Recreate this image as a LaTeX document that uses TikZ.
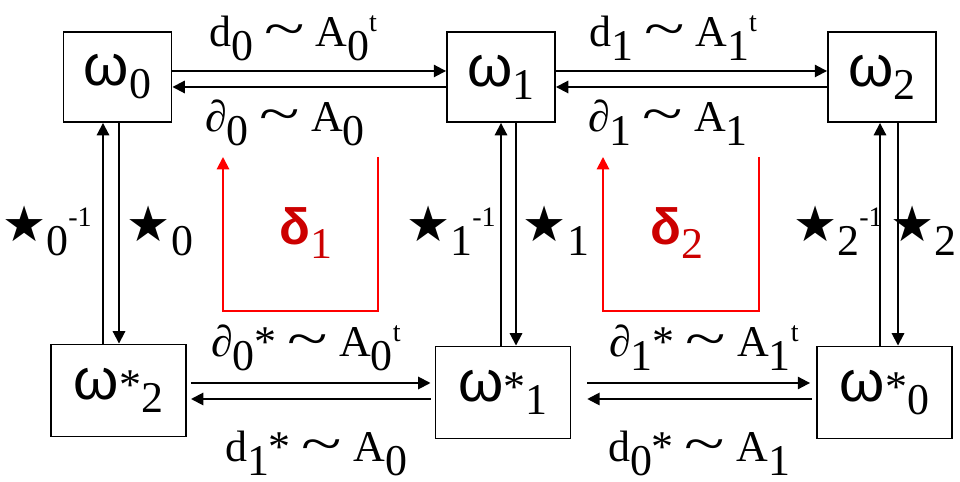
\documentclass[tikz,border=0pt]{standalone}
\usepackage{fontspec}
\setmainfont{Liberation Serif}
\newfontfamily\grkfont{Liberation Sans}
\newfontfamily\starfont{DejaVu Sans}
\usetikzlibrary{arrows.meta}

\newcommand{\subd}[1]{\raisebox{-0.3em}{#1}}
\newcommand{\supu}[1]{\raisebox{0.36em}{\fontsize{16}{16}\selectfont #1}}
\newcommand{\om}[1]{{\grkfont\fontsize{33}{33}\selectfont ω}\subd{#1}}
\newcommand{\oms}[1]{{\grkfont\fontsize{33}{33}\selectfont ω}*\subd{#1}}
\newcommand{\str}[1]{{\starfont\fontsize{28}{28}\selectfont ★}\subd{#1}}
\newcommand{\tld}{\ \scalebox{1.7}[1.2]{\textasciitilde}\ }

\begin{document}
\begin{tikzpicture}[
      x=0.02cm, y=-0.02cm,
      box/.style  = {rectangle, draw, line width=1.1pt, inner sep=0pt,
                     minimum width=2.16cm, minimum height=1.8cm,
                     font=\fontsize{25}{25}\selectfont},
      boxs/.style = {box, minimum width=2.7cm, minimum height=1.84cm},
      arr/.style  = {-{Triangle[length=7pt, width=7pt]}, line width=1.1pt},
      dl/.style   = {-{Triangle[length=7pt, width=7pt]}, draw=red, line width=1.1pt},
      lbl/.style  = {anchor=base, inner sep=0pt, font=\fontsize{25}{25}\selectfont},
      dlt/.style  = {anchor=base, inner sep=0pt, text=red!80!black,
                     font=\fontsize{25}{25}\selectfont},
    ]
    \useasboundingbox (0,0) rectangle (960,482);

    %% ------------------------------------------------ forms
    \node[box] (w0) at (117.5, 77) {\om{0}};
    \node[box] (w1) at (501, 77) {\om{1}};
    \node[box] (w2) at (882, 77) {\om{2}};
    \node[boxs] (ws2) at (118.5, 390.5) {\oms{2}};
    \node[boxs] (ws1) at (503, 392.5) {\oms{1}};
    \node[boxs] (ws0) at (884.5, 392.5) {\oms{0}};

    %% ------------------------------------------------ rows and columns of the arrows
    \coordinate (t1) at (0, 71);
    \coordinate (t2) at (0, 87);
    \coordinate (b1) at (0, 383);
    \coordinate (b2) at (0, 399);
    \coordinate (c0u) at (103, 0);
    \coordinate (c0d) at (119, 0);
    \coordinate (c1u) at (501, 0);
    \coordinate (c1d) at (516, 0);
    \coordinate (c2u) at (880, 0);
    \coordinate (c2d) at (898, 0);

    %% ------------------------------------------------ top row
    \draw[arr] (w0.east |- t1) -- (w1.west |- t1);
    \draw[arr] (w1.west |- t2) -- (w0.east |- t2);
    \draw[arr] (w1.east |- t1) -- (w2.west |- t1);
    \draw[arr] (w2.west |- t2) -- (w1.east |- t2);
    \node[lbl] (d0) at (293, 47) {d\subd{0}\tld A\subd{0}\supu{t}};
    \node[lbl] (p0) at (285, 132) {∂\subd{0}\tld A\subd{0}};
    \node[lbl] (d1) at (673, 47) {d\subd{1}\tld A\subd{1}\supu{t}};
    \node[lbl] (p1) at (668, 132) {∂\subd{1}\tld A\subd{1}};

    %% ------------------------------------------------ bottom row
    \draw[arr, shorten <=2.3pt, shorten >=2.3pt] (ws2.east |- b1) -- (ws1.west |- b1);
    \draw[arr, shorten <=2.3pt, shorten >=2.3pt] (ws1.west |- b2) -- (ws2.east |- b2);
    \draw[arr, shorten <=9pt, shorten >=3.4pt] (ws1.east |- b1) -- (ws0.west |- b1);
    \draw[arr, shorten <=2.3pt, shorten >=9pt] (ws0.west |- b2) -- (ws1.east |- b2);
    \node[lbl] (ps0) at (306, 357) {∂\subd{0}*\tld A\subd{0}\supu{t}};
    \node[lbl] (ds1) at (316, 462) {d\subd{1}*\tld A\subd{0}};
    \node[lbl] (ps1) at (704, 357) {∂\subd{1}*\tld A\subd{1}\supu{t}};
    \node[lbl] (ds0) at (699, 462) {d\subd{0}*\tld A\subd{1}};

    %% ------------------------------------------------ hodge stars
    \draw[arr] (ws2.north -| c0u) -- (w0.south -| c0u);
    \draw[arr] (w0.south -| c0d) -- (ws2.north -| c0d);
    \draw[arr] (ws1.north -| c1u) -- (w1.south -| c1u);
    \draw[arr] (w1.south -| c1d) -- (ws1.north -| c1d);
    \draw[arr] (ws0.north -| c2u) -- (w2.south -| c2u);
    \draw[arr] (w2.south -| c2d) -- (ws0.north -| c2d);
    \node[lbl] (si0) at (47, 242) {\str{0}\supu{-1}};
    \node[lbl] (s0) at (160, 242) {\str{0}};
    \node[lbl] (si1) at (451, 242) {\str{1}\supu{-1}};
    \node[lbl] (s1) at (556, 242) {\str{1}};
    \node[lbl] (si2) at (838, 242) {\str{2}\supu{-1}};
    \node[lbl, anchor=base east] (s2) at (957, 242) {\str{2}};

    %% ------------------------------------------------ delta loops
    \coordinate (r1a) at (378, 157);
    \coordinate (r1b) at (378, 311);
    \coordinate (r1c) at (223, 311);
    \coordinate (r1d) at (223, 157);
    \draw[dl] (r1a) -- (r1b) -- (r1c) -- (r1d);
    \node[dlt] (dt1) at (306, 245) {{\grkfont\bfseries\fontsize{29}{29}\selectfont δ}\subd{1}};
    \coordinate (r2a) at (759, 157);
    \coordinate (r2b) at (759, 311);
    \coordinate (r2c) at (603, 311);
    \coordinate (r2d) at (603, 157);
    \draw[dl] (r2a) -- (r2b) -- (r2c) -- (r2d);
    \node[dlt] (dt2) at (677, 245) {{\grkfont\bfseries\fontsize{29}{29}\selectfont δ}\subd{2}};
  \end{tikzpicture}
\end{document}
